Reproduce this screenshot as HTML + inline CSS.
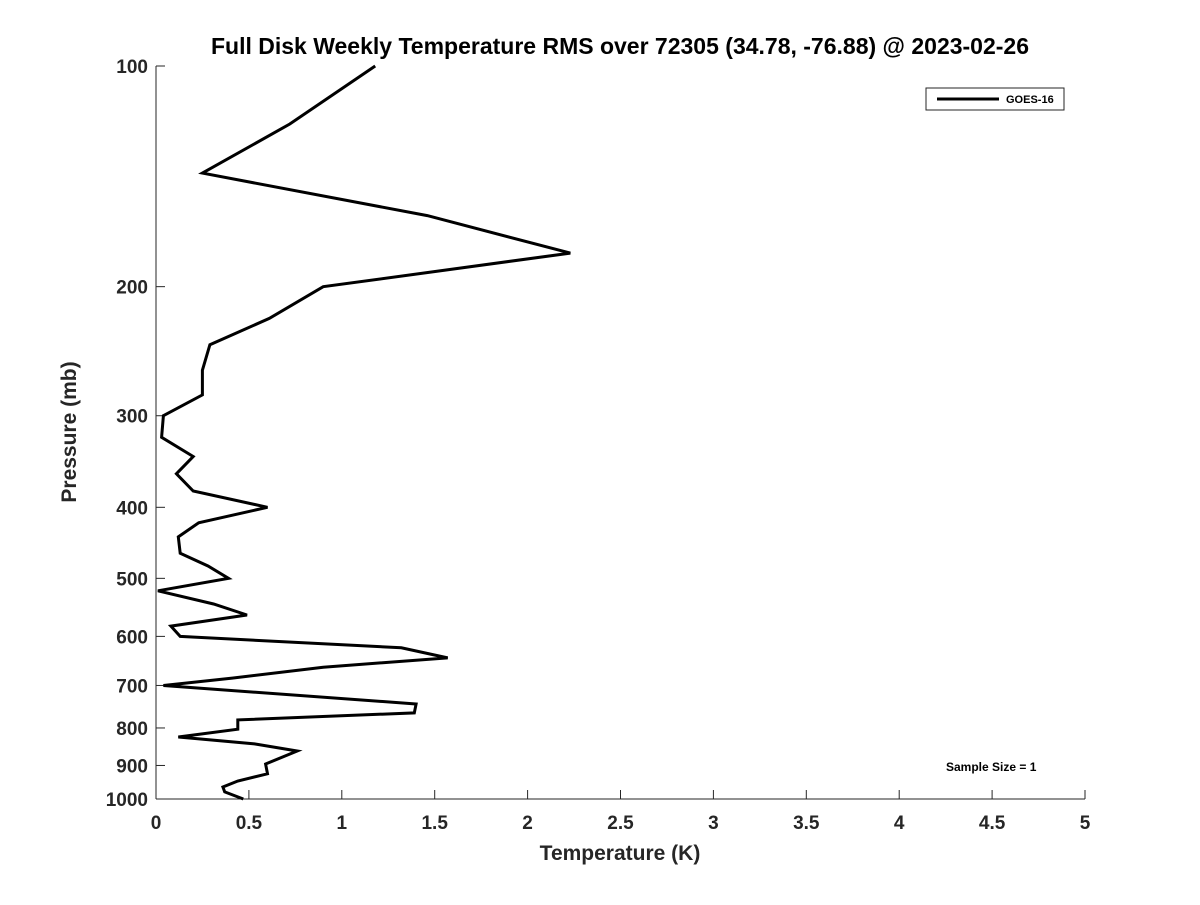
<!DOCTYPE html>
<html><head><meta charset="utf-8"><style>
body{margin:0;background:#fff}
svg text{font-family:"Liberation Sans","DejaVu Sans",sans-serif;font-weight:bold;fill:#262626}
</style></head><body>
<svg id="chart" width="1200" height="900" xmlns="http://www.w3.org/2000/svg">
<rect width="1200" height="900" fill="#fff"/>
<text x="620" y="54" text-anchor="middle" font-size="23" style="fill:#000">Full Disk Weekly Temperature RMS over 72305 (34.78, -76.88) @ 2023-02-26</text>
<g id="axes"></g>
<path id="series" fill="none" stroke="#000" stroke-width="3" stroke-linejoin="miter"/>
<text x="620" y="860" text-anchor="middle" font-size="21">Temperature (K)</text>
<text transform="translate(76,432) rotate(-90)" text-anchor="middle" font-size="21">Pressure (mb)</text>
<g>
<rect x="926" y="88" width="138" height="22" fill="#fff" stroke="#262626" stroke-width="1"/>
<line x1="937" y1="99" x2="999" y2="99" stroke="#000" stroke-width="3"/>
<text x="1006" y="103" font-size="11" style="fill:#000">GOES-16</text>
</g>
<text x="946" y="771" font-size="12" style="fill:#000">Sample Size = 1</text>
</svg>
<script>
const temps=[1.18,0.72,0.25,1.46,2.23,0.90,0.61,0.29,0.25,0.25,0.04,0.03,0.20,0.11,0.20,0.60,0.23,0.12,0.13,0.28,0.39,0.01,0.31,0.49,0.08,0.13,1.32,1.57,0.90,0.41,0.04,1.40,1.39,0.44,0.44,0.12,0.53,0.76,0.59,0.60,0.44,0.36,0.37,0.47];
const pressures=[100,120,140,160,180,200,221,240,260,281,300,321,341,360,380,400,420,439,462,481,500,520,542,561,581,600,622,642,661,684,700,742,763,780,803,823,841,860,896,924,945,963,978,1000];
const xTicks=[0,0.5,1,1.5,2,2.5,3,3.5,4,4.5,5];
const yTicks=[100,200,300,400,500,600,700,800,900,1000];
const X0=156,X1=1085,Y0=66,Y1=799;
const xs=v=>X0+(X1-X0)*v/5;
const ys=p=>Y0+(Y1-Y0)*Math.log10(p/100);
const NS="http://www.w3.org/2000/svg";
const ax=document.getElementById('axes');
function mk(t,a){const e=document.createElementNS(NS,t);for(const k in a)e.setAttribute(k,a[k]);ax.appendChild(e);return e;}
let l=mk('line',{x1:X0,y1:Y1,x2:X1,y2:Y1,stroke:'#262626','stroke-width':1});


l=mk('line',{x1:X0,y1:Y0,x2:X0,y2:Y1,stroke:'#262626','stroke-width':1});


xTicks.forEach(v=>{
 mk('line',{x1:xs(v),y1:Y1,x2:xs(v),y2:Y1-9,stroke:'#262626'});
 const t=mk('text',{x:xs(v),y:Y1+30,'text-anchor':'middle','font-size':19});
 t.textContent=v;
 
 
});
yTicks.forEach(p=>{
 mk('line',{x1:X0,y1:ys(p),x2:X0+9,y2:ys(p),stroke:'#262626'});
 const t=mk('text',{x:X0-8,y:ys(p)+7,'text-anchor':'end','font-size':19});
 t.textContent=p;
 
 
});
document.getElementById('series').setAttribute('d',temps.map((v,i)=>(i?'L':'M')+xs(v).toFixed(1)+','+ys(pressures[i]).toFixed(1)).join(''));
</script>
</body></html>
